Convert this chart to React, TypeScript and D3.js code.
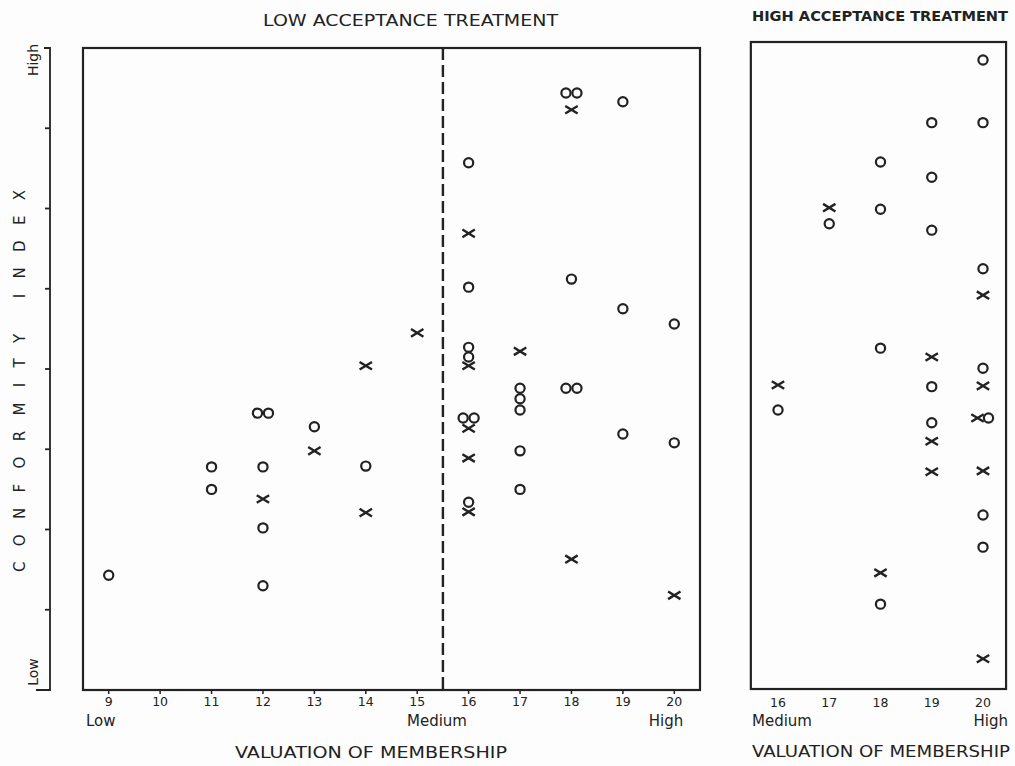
import React from "react";
import * as d3 from "d3";

// Valuation of membership (x) vs conformity index (y, 0 = Low ... 8 = High)
const lowCircles: [number, number][] = [
  [9, 1.43], [11, 2.78], [11, 2.5], [12, 3.45], [12, 3.45], [12, 2.78], [12, 2.02], [12, 1.3],
  [13, 3.28], [14, 2.79], [16, 6.57], [16, 5.02], [16, 4.27], [16, 4.15], [16, 3.39], [16, 3.39],
  [16, 2.34], [17, 3.76], [17, 3.63], [17, 3.49], [17, 2.98], [17, 2.5], [18, 7.44], [18, 7.44],
  [18, 5.12], [18, 3.76], [18, 3.76], [19, 7.33], [19, 4.75], [19, 3.19], [20, 4.56], [20, 3.08],
];
const lowCrosses: [number, number][] = [
  [12, 2.38], [13, 2.98], [14, 4.04], [14, 2.21], [15, 4.45], [16, 5.69], [16, 4.04], [16, 3.26],
  [16, 2.89], [16, 2.22], [17, 4.22], [18, 7.23], [18, 1.63], [20, 1.18],
];
const highCircles: [number, number][] = [
  [20, 7.85], [19, 7.07], [20, 7.07], [18, 6.58], [19, 6.39], [17, 5.81], [18, 5.99], [19, 5.73],
  [20, 5.25], [18, 4.26], [20, 4.01], [19, 3.78], [16, 3.49], [19, 3.33], [20, 3.39], [20, 2.18],
  [20, 1.78], [18, 1.07],
];
const highCrosses: [number, number][] = [
  [17, 6.01], [20, 4.92], [19, 4.15], [16, 3.8], [20, 3.79], [20, 3.39], [19, 3.1], [19, 2.72],
  [20, 2.73], [18, 1.46], [20, 0.39],
];
const lowTicks = [9, 10, 11, 12, 13, 14, 15, 16, 17, 18, 19, 20];
const highTicks = [16, 17, 18, 19, 20];
const yTicks = [1, 2, 3, 4, 5, 6, 7];
const medianCut = 15.5;

const INK = "#222";
const FONT = "'DejaVu Sans', 'Liberation Sans', sans-serif";

const y = d3.scaleLinear().domain([0, 8]).range([690, 48]);
const xLow = d3.scaleLinear().domain([8.5, 20.5]).range([83, 700]);
const xHigh = d3.scaleLinear().domain([16, 20]).range([778, 983]);

type Mark = { x: number; y: number; kind: "o" | "x"; dx: number };

function layoutMarks(circles: [number, number][], crosses: [number, number][]): Mark[] {
  const marks: Mark[] = [
    ...crosses.map(([x, v]) => ({ x, y: v, kind: "x" as const, dx: 0 })),
    ...circles.map(([x, v]) => ({ x, y: v, kind: "o" as const, dx: 0 })),
  ];
  const groups = d3.group(marks, (m) => `${m.x}|${m.y}`);
  groups.forEach((g) => {
    const n = g.length;
    g.forEach((m, i) => {
      m.dx = (i - (n - 1) / 2) * 11;
    });
  });
  return marks;
}

function Marks({ marks, xs }: { marks: Mark[]; xs: d3.ScaleLinear<number, number> }) {
  return (
    <g>
      {marks.map((m, i) => {
        const cx = xs(m.x) + m.dx;
        const cy = y(m.y);
        return m.kind === "o" ? (
          <circle key={i} cx={cx} cy={cy} r={4.6} fill="none" stroke={INK} strokeWidth={2.2} />
        ) : (
          <path
            key={i}
            d={`M${cx - 6.2},${cy - 3.8}L${cx + 6.2},${cy + 3.8}M${cx - 6.2},${cy + 3.8}L${cx + 6.2},${cy - 3.8}`}
            stroke={INK}
            strokeWidth={2.4}
            fill="none"
          />
        );
      })}
    </g>
  );
}

export default function App() {
  const lowMarks = layoutMarks(lowCircles, lowCrosses);
  const highMarks = layoutMarks(highCircles, highCrosses);
  const lowL = xLow(8.5), lowR = xLow(20.5);
  const highL = xHigh(15.47), highR = xHigh(20.45);
  const top = y(8), bottom = y(0);
  return (
    <svg width={1015} height={766} style={{ position: "absolute", left: 0, top: 0, background: "#fff" }} fontFamily={FONT}>
      <rect width={1015} height={766} fill="#fdfdfd" />
      {/* Titles */}
      <text x={263} y={26} fontSize={15} fill={INK} textLength={295} lengthAdjust="spacingAndGlyphs">LOW ACCEPTANCE TREATMENT</text>
      <text x={752} y={21} fontSize={14} fill={INK} fontWeight="bold" textLength={256} lengthAdjust="spacingAndGlyphs">HIGH ACCEPTANCE TREATMENT</text>

      {/* Y bracket axis */}
      <g stroke={INK} strokeWidth={1.8} fill="none">
        <path d={`M44,${top}H50V${bottom}H36`} />
        {yTicks.map((t) => (
          <line key={t} x1={45} x2={50} y1={y(t)} y2={y(t)} />
        ))}
      </g>
      <text transform={`translate(38,${top + 12}) rotate(-90)`} textAnchor="middle" fontSize={14} fill={INK}>High</text>
      <text transform={`translate(38,${bottom - 18}) rotate(-90)`} textAnchor="middle" fontSize={14} fill={INK}>Low</text>
      <text transform={`translate(25,${(565 + 197) / 2}) rotate(-90)`} textAnchor="middle" fontSize={15} fill={INK} textLength={382} lengthAdjust="spacing">CONFORMITY INDEX</text>

      {/* Left panel */}
      <rect x={lowL} y={top} width={lowR - lowL} height={bottom - top} fill="none" stroke={INK} strokeWidth={2.2} />
      <line x1={xLow(medianCut)} x2={xLow(medianCut)} y1={top} y2={bottom} stroke={INK} strokeWidth={2.4} strokeDasharray="12,5" />
      {lowTicks.map((t) => (
        <g key={t}>
          <line x1={xLow(t)} x2={xLow(t)} y1={bottom} y2={bottom + 4} stroke={INK} strokeWidth={1.5} />
          <text x={xLow(t)} y={706} textAnchor="middle" fontSize={12.5} fill={INK}>{t}</text>
        </g>
      ))}
      <Marks marks={lowMarks} xs={xLow} />
      <text x={86} y={726} fontSize={15} fill={INK}>Low</text>
      <text x={437} y={726} fontSize={15} fill={INK} textAnchor="middle">Medium</text>
      <text x={666} y={726} fontSize={15} fill={INK} textAnchor="middle">High</text>
      <text x={235} y={758} fontSize={15} fill={INK} textLength={272} lengthAdjust="spacingAndGlyphs">VALUATION OF MEMBERSHIP</text>

      {/* Right panel */}
      <rect x={highL} y={42} width={highR - highL} height={bottom - 1 - 42} fill="none" stroke={INK} strokeWidth={2.2} />
      {highTicks.map((t) => (
        <text key={t} x={xHigh(t)} y={707} textAnchor="middle" fontSize={12.5} fill={INK}>{t}</text>
      ))}
      <Marks marks={highMarks} xs={xHigh} />
      <text x={752} y={726} fontSize={15} fill={INK}>Medium</text>
      <text x={1008} y={726} fontSize={15} fill={INK} textAnchor="end">High</text>
      <text x={752} y={757} fontSize={15} fill={INK} textLength={258} lengthAdjust="spacingAndGlyphs">VALUATION OF MEMBERSHIP</text>
    </svg>
  );
}
